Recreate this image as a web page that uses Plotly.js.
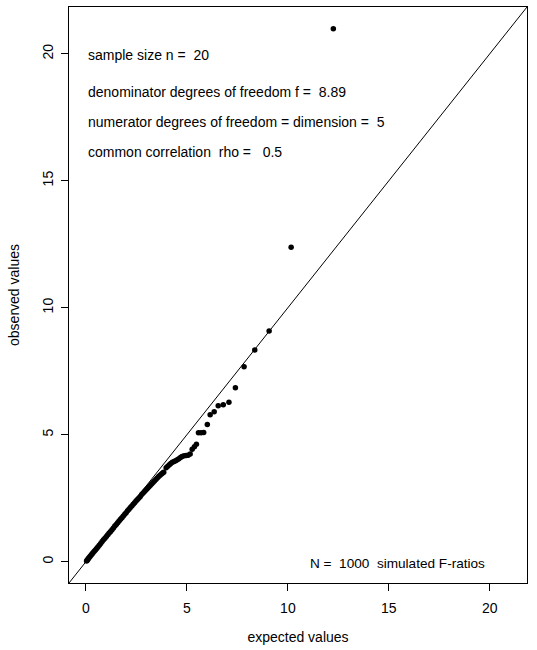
<!DOCTYPE html>
<html>
<head>
<meta charset="utf-8">
<script src="https://cdn.plot.ly/plotly-3.0.1.min.js"></script>
<style>
  html, body { margin: 0; padding: 0; background: #ffffff; }
  #chart { width: 537px; height: 650px; }
</style>
</head>
<body>
<div id="chart"></div>
<script>
// Q-Q plot of simulated F-ratios against their expected quantiles
const expectedValues = [
  0.03, 0.06, 0.09, 0.12, 0.16, 0.20, 0.25, 0.30, 0.35, 0.41,
  0.47, 0.53, 0.59, 0.66, 0.73, 0.80, 0.87, 0.94, 1.01, 1.08,
  1.15, 1.22, 1.29, 1.36, 1.43, 1.50, 1.57, 1.64, 1.71, 1.78,
  1.85, 1.92, 1.99, 2.06, 2.13, 2.20, 2.27, 2.34, 2.41, 2.48,
  2.55, 2.62, 2.69, 2.76, 2.83, 2.90, 2.97, 3.04, 3.11, 3.18,
  3.25, 3.32, 3.39, 3.46, 3.53, 3.60, 3.67, 3.74, 3.80, 3.85,
  3.97, 4.05, 4.13, 4.20, 4.28, 4.36, 4.44, 4.52, 4.60, 4.68,
  4.76, 4.86, 4.96, 5.06, 5.16, 5.26, 5.37, 5.47, 5.57, 5.70,
  5.83, 6.01, 6.15, 6.35, 6.55, 6.80, 7.08, 7.40, 7.83, 8.36,
  9.07, 10.16, 12.25
];
const observedValues = [
  0.03, 0.06, 0.09, 0.12, 0.16, 0.20, 0.25, 0.30, 0.35, 0.41,
  0.46, 0.52, 0.58, 0.65, 0.72, 0.79, 0.86, 0.92, 0.99, 1.06,
  1.13, 1.19, 1.26, 1.33, 1.40, 1.46, 1.53, 1.60, 1.67, 1.73,
  1.80, 1.87, 1.93, 2.00, 2.06, 2.13, 2.19, 2.26, 2.32, 2.39,
  2.45, 2.51, 2.57, 2.64, 2.70, 2.76, 2.82, 2.88, 2.94, 3.00,
  3.06, 3.12, 3.18, 3.24, 3.29, 3.35, 3.40, 3.45, 3.49, 3.52,
  3.70, 3.76, 3.82, 3.87, 3.91, 3.94, 3.97, 4.01, 4.05, 4.10,
  4.14, 4.17, 4.18, 4.19, 4.24, 4.43, 4.52, 4.62, 5.08, 5.08,
  5.09, 5.40, 5.78, 5.90, 6.14, 6.18, 6.28, 6.85, 7.67, 8.33,
  9.08, 12.38, 20.98
];
const tickValues = [0, 5, 10, 15, 20];
const tickLabels = ["0", "5", "10", "15", "20"];
const infoLines = [
  "sample size n = \u00A020",
  "denominator degrees of freedom f = \u00A08.89",
  "numerator degrees of freedom = dimension = \u00A05",
  "common correlation \u00A0rho = \u00A0 0.5"
];
const footNote = "N = \u00A01000 \u00A0simulated F-ratios";

// both axes share the same extended range (data range padded by 4%)
const axisRange = [-0.84, 21.84];

const fontFamily = "Liberation Sans, Arial, Helvetica, sans-serif";
const textSize = 14;

const points = {
  x: expectedValues,
  y: observedValues,
  type: "scatter",
  mode: "markers",
  marker: { color: "#000000", size: 5.5 },
  hoverinfo: "x+y",
  showlegend: false,
  cliponaxis: true
};

// identity reference line spanning the whole plotting region
const identity = {
  x: axisRange,
  y: axisRange,
  type: "scatter",
  mode: "lines",
  line: { color: "#000000", width: 1 },
  hoverinfo: "skip",
  showlegend: false
};

const infoY = [0.9167, 0.8530, 0.8009, 0.7488];
const annotations = infoLines.map((t, i) => ({
  text: t,
  xref: "paper", yref: "paper",
  x: 0.037, y: infoY[i],
  xanchor: "left", yanchor: "middle",
  showarrow: false,
  font: { family: fontFamily, size: textSize, color: "#000000" }
}));
annotations.push({
  text: footNote,
  xref: "paper", yref: "paper",
  x: 0.912, y: 0.0347,
  xanchor: "right", yanchor: "middle",
  showarrow: false,
  font: { family: fontFamily, size: 13.6, color: "#000000" }
});

const axisCommon = {
  range: axisRange,
  autorange: false,
  tickmode: "array",
  tickvals: tickValues,
  ticktext: tickLabels,
  ticks: "outside",
  ticklen: 7,
  tickwidth: 1,
  tickcolor: "#000000",
  showline: true,
  linecolor: "#000000",
  linewidth: 1,
  mirror: true,
  showgrid: false,
  zeroline: false,
  tickfont: { family: fontFamily, size: textSize, color: "#000000" },
  fixedrange: true
};

const layout = {
  width: 537,
  height: 650,
  margin: { l: 69, r: 10, t: 7, b: 67 },
  paper_bgcolor: "#ffffff",
  plot_bgcolor: "#ffffff",
  showlegend: false,
  font: { family: fontFamily, size: textSize, color: "#000000" },
  xaxis: Object.assign({}, axisCommon, {
    ticklabelstandoff: 5,
    title: { text: "expected values", standoff: 17, font: { family: fontFamily, size: textSize, color: "#000000" } }
  }),
  yaxis: Object.assign({}, axisCommon, {
    tickangle: -90,
    ticklabelstandoff: 2,
    title: { text: "observed values", standoff: 17, font: { family: fontFamily, size: textSize, color: "#000000" } }
  }),
  annotations: annotations
};

Plotly.newPlot("chart", [identity, points], layout, { staticPlot: true, displayModeBar: false });
</script>
</body>
</html>
